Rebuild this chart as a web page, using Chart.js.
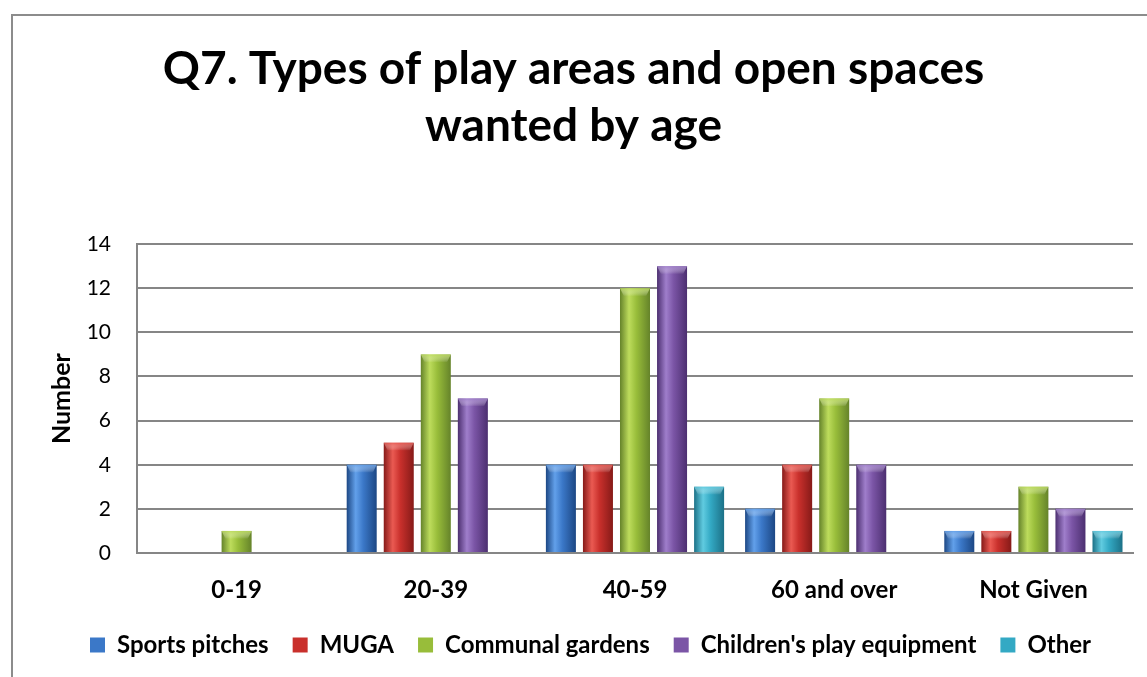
<!DOCTYPE html>
<html>
<head>
<meta charset="utf-8">
<title>Q7. Types of play areas and open spaces wanted by age</title>
<script src="https://cdn.jsdelivr.net/npm/chart.js@4.4.1/dist/chart.umd.min.js"></script>
<style>
  html, body { margin: 0; padding: 0; background: #fff; overflow: hidden; }
  #frame { position: absolute; left: 11px; top: 14px; width: 1200px; height: 720px; border: 2px solid #8c8c8c; box-sizing: border-box; }
  #wrap { position: absolute; left: 0; top: 0; width: 1147px; height: 677px; }
</style>
</head>
<body>
<div id="frame"></div>
<div id="wrap"><canvas id="playChart"></canvas></div>
<script>
// Responses per age group
const ageGroups = ['0-19', '20-39', '40-59', '60 and over', 'Not Given'];
const sportsPitches = [0, 4, 4, 2, 1];
const muga = [0, 5, 4, 4, 1];
const communalGardens = [1, 9, 12, 7, 3];
const childrensPlay = [0, 7, 13, 4, 2];
const otherSpaces = [0, 0, 3, 0, 1];
const yTicks = [0, 2, 4, 6, 8, 10, 12, 14];

// Shading for each series: mid tone, highlight, edge
const shades = [
    { mid: '#3b78c8', light: '#62a0ea', dark: '#1c4784' },
    { mid: '#c9302c', light: '#ea5a52', dark: '#861a18' },
    { mid: '#98bd3a', light: '#bddc5c', dark: '#65832a' },
    { mid: '#7b55a6', light: '#9f7ecb', dark: '#4c2f70' },
    { mid: '#33a9c4', light: '#60cbe0', dark: '#1c7187' }
];

const FONT = 'Lato, "Open Sans", sans-serif';

// Cylinder-like horizontal gradient on each bar plus a lighter top cap
const barShading = {
    id: 'barShading',
    beforeDatasetsDraw(chart) {
        const ctx = chart.ctx;
        chart.data.datasets.forEach((ds, i) => {
            const s = shades[i];
            chart.getDatasetMeta(i).data.forEach(bar => {
                const half = bar.width / 2;
                const g = ctx.createLinearGradient(bar.x - half, 0, bar.x + half, 0);
                g.addColorStop(0, s.dark);
                g.addColorStop(0.3, s.light);
                g.addColorStop(0.55, s.mid);
                g.addColorStop(1, s.dark);
                bar.options.backgroundColor = g;
            });
        });
    },
    afterDatasetsDraw(chart) {
        const ctx = chart.ctx;
        ctx.save();
        chart.data.datasets.forEach((ds, i) => {
            const s = shades[i];
            chart.getDatasetMeta(i).data.forEach(bar => {
                if (Math.abs(bar.base - bar.y) < 2) return;
                const half = bar.width / 2;
                const cap = ctx.createLinearGradient(0, bar.y, 0, bar.y + 8);
                cap.addColorStop(0, s.light);
                cap.addColorStop(1, 'rgba(255,255,255,0)');
                ctx.fillStyle = cap;
                ctx.globalAlpha = 0.85;
                ctx.beginPath();
                ctx.moveTo(bar.x - half, bar.y);
                ctx.lineTo(bar.x + half, bar.y);
                ctx.lineTo(bar.x + half - 4, bar.y + 8);
                ctx.lineTo(bar.x - half + 4, bar.y + 8);
                ctx.closePath();
                ctx.fill();
            });
        });
        ctx.restore();
    }
};

// Legend sits a little right of the canvas centre
const legendNudge = {
    id: 'legendNudge',
    afterLayout(chart) {
        chart.legend.left += 17;
        chart.legend.right += 17;
    }
};

const seriesNames = ['Sports pitches', 'MUGA', 'Communal gardens', "Children's play equipment", 'Other'];
const seriesValues = [sportsPitches, muga, communalGardens, childrensPlay, otherSpaces];

new Chart(document.getElementById('playChart'), {
    type: 'bar',
    data: {
        labels: ageGroups,
        datasets: seriesValues.map((values, i) => ({
            label: seriesNames[i],
            data: values,
            backgroundColor: c => shades[c.datasetIndex].mid,
            borderWidth: 0,
            categoryPercentage: 0.93,
            barPercentage: 0.81
        }))
    },
    options: {
        responsive: true,
        maintainAspectRatio: false,
        animation: false,
        layout: { padding: { left: 14, right: 14, top: 0, bottom: 10 } },
        plugins: {
            title: {
                display: true,
                text: ['Q7. Types of play areas and open spaces', 'wanted by age'],
                color: '#000',
                font: { family: FONT, size: 46, weight: 'bold', lineHeight: 1.24 },
                padding: { top: 41, bottom: 89 }
            },
            legend: {
                position: 'bottom',
                labels: {
                    color: '#000',
                    font: { family: FONT, size: 24, weight: 'bold' },
                    boxWidth: 15,
                    boxHeight: 15,
                    padding: 24
                }
            },
            tooltip: { enabled: false }
        },
        scales: {
            x: {
                afterFit: scale => { scale.height = 56; },
                grid: { display: false, drawTicks: false },
                border: { color: '#868686', width: 2 },
                ticks: {
                    color: '#000',
                    padding: 23,
                    font: { family: FONT, size: 24, weight: 'bold' }
                }
            },
            y: {
                min: yTicks[0],
                max: yTicks[yTicks.length - 1],
                afterBuildTicks: scale => { scale.ticks = yTicks.map(v => ({ value: v })); },
                afterFit: scale => { scale.width = 123; },
                grid: { color: '#868686', lineWidth: 2, drawTicks: false },
                border: { color: '#868686', width: 2 },
                ticks: {
                    color: '#000',
                    padding: 26,
                    font: { family: FONT, size: 21 }
                },
                title: {
                    display: true,
                    text: 'Number',
                    color: '#000',
                    font: { family: FONT, size: 25, weight: 'bold' },
                    padding: { top: 33 }
                }
            }
        }
    },
    plugins: [barShading, legendNudge]
});
</script>
</body>
</html>
